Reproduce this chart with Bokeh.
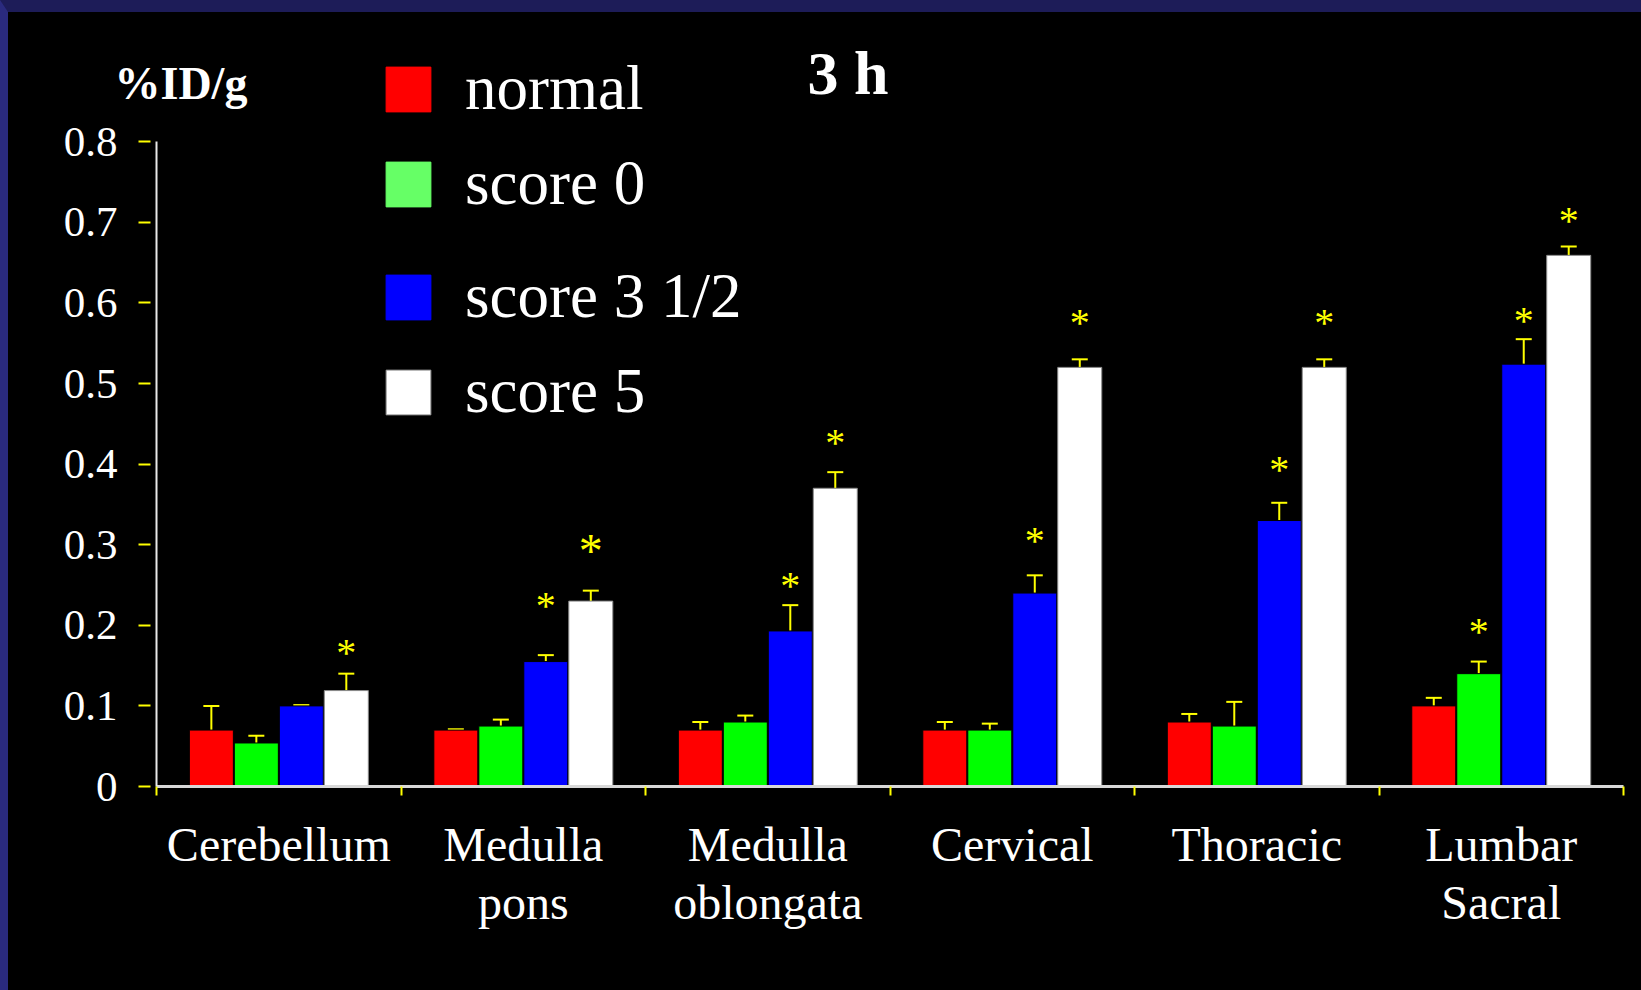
from bokeh.plotting import figure
from bokeh.models import (ColumnDataSource, FixedTicker, Whisker, TeeHead, Legend,
                          LegendItem, Label, Range1d)
from bokeh.transform import dodge
from bokeh.core.properties import value
from bokeh.embed import file_html
from bokeh.resources import INLINE

# ---------------- data ----------------
categories = ["Cerebellum", "Medulla\npons", "Medulla\noblongata",
              "Cervical", "Thoracic", "Lumbar\nSacral"]
series = ["normal", "score 0", "score 3 1/2", "score 5"]

normal      = [0.070, 0.070, 0.070, 0.070, 0.080, 0.100]
normal_err  = [0.100, 0.071, 0.080, 0.080, 0.090, 0.110]
score0      = [0.054, 0.075, 0.080, 0.070, 0.075, 0.140]
score0_err  = [0.063, 0.083, 0.088, 0.078, 0.105, 0.155]
score35     = [0.100, 0.155, 0.193, 0.240, 0.330, 0.524]
score35_err = [0.101, 0.163, 0.225, 0.262, 0.352, 0.555]
score5      = [0.119, 0.230, 0.370, 0.520, 0.520, 0.659]
score5_err  = [0.140, 0.243, 0.390, 0.530, 0.530, 0.670]

# significance asterisks: category index, series, height of the asterisk
star_cat    = [0, 1, 1, 2, 2, 3, 3, 4, 4, 5, 5, 5]
star_series = ["score 5", "score 3 1/2", "score 5", "score 3 1/2", "score 5",
               "score 3 1/2", "score 5", "score 3 1/2", "score 5",
               "score 0", "score 3 1/2", "score 5"]
star_y      = [0.170, 0.228, 0.2965, 0.253, 0.430, 0.309, 0.579, 0.397, 0.579,
               0.196, 0.582, 0.706]
star_big    = [False, False, True, False, False, False, False, False, False,
               False, False, False]

y_ticks = [0.0, 0.1, 0.2, 0.3, 0.4, 0.5, 0.6, 0.7, 0.8]
y_tick_labels = ["0", "0.1", "0.2", "0.3", "0.4", "0.5", "0.6", "0.7", "0.8"]

# ---------------- styles ----------------
FONT = "Liberation Serif"
YEL = "#FFFF00"
bar_colors = {"normal": "#FF0000", "score 0": "#00FF00",
              "score 3 1/2": "#0000FF", "score 5": "#FFFFFF"}
legend_colors = {"normal": "#FF0000", "score 0": "#66FF66",
                 "score 3 1/2": "#0000FF", "score 5": "#FFFFFF"}
outline = {"normal": "#000000", "score 0": "#000000",
           "score 3 1/2": "#000000", "score 5": "#8a8a8a"}
offsets = {"normal": -0.276, "score 0": -0.092, "score 3 1/2": 0.092, "score 5": 0.276}
BAR_W = 0.18

# layout: the frame covers the whole figure; both axes are pinned at 0 inside it
W, H = 1632, 976
PX_PER_Y = 806.0
PX_PER_X = 244.33
LEFT_PAD = 148      # pixels left of x = 0
BOTTOM_PAD = 202    # pixels below y = 0
RIGHT_PAD = 17
p = figure(width=W, height=H, output_backend="svg", toolbar_location=None,
           x_range=Range1d(-LEFT_PAD / PX_PER_X, 6 + RIGHT_PAD / PX_PER_X),
           y_range=Range1d(-BOTTOM_PAD / PX_PER_Y, (H - BOTTOM_PAD) / PX_PER_Y),
           min_border_left=0, min_border_right=0,
           min_border_top=0, min_border_bottom=0)
p.background_fill_color = "black"
p.border_fill_color = "black"
p.outline_line_color = None
p.xgrid.visible = False
p.ygrid.visible = False

cx = [i + 0.5 for i in range(len(categories))]
vals = {"normal": (normal, normal_err), "score 0": (score0, score0_err),
        "score 3 1/2": (score35, score35_err), "score 5": (score5, score5_err)}

for s in series:
    v, e = vals[s]
    src = ColumnDataSource(dict(x=cx, top=v, err=e))
    p.vbar(x=dodge("x", offsets[s]), top="top", width=BAR_W, source=src,
           fill_color=bar_colors[s], line_color=outline[s], line_width=1)
    w = Whisker(source=src, base=dodge("x", offsets[s]), lower="top", upper="err",
                dimension="height", line_color=YEL, line_width=2,
                upper_head=TeeHead(size=16, line_color=YEL, line_width=2),
                lower_head=None)
    p.add_layout(w)

# asterisks
sx = [star_cat[i] + 0.5 + offsets[star_series[i]] for i in range(len(star_y))]
ssize = ["48px" if b else "40px" for b in star_big]
ssrc = ColumnDataSource(dict(x=sx, y=star_y, t=["*"] * len(star_y), fs=ssize))
p.text(x="x", y="y", text="t", source=ssrc, text_color=YEL, text_font=value(FONT),
       text_font_size="fs", text_align="center", text_baseline="middle", y_offset=3)

# legend: zero-size proxy renderers carrying the legend colours
proxy = {}
for s in series:
    psrc = ColumnDataSource(dict(x=cx[:1], top=[0.0]))
    proxy[s] = p.vbar(x="x", top="top", width=0, source=psrc,
                      fill_color=legend_colors[s], line_width=1,
                      line_color=outline[s] if s == "score 5" else legend_colors[s])

leg_style = dict(glyph_width=56, glyph_height=56, label_text_font_size="63px",
                 label_text_font=FONT, label_text_color="white", label_standoff=29,
                 spacing=22, padding=0, margin=0,
                 background_fill_alpha=0, border_line_alpha=0)
leg_a = Legend(items=[LegendItem(label=s, renderers=[proxy[s]]) for s in series[:2]],
               location=(372, 768), **leg_style)
leg_b = Legend(items=[LegendItem(label=s, renderers=[proxy[s]]) for s in series[2:]],
               location=(372, 560), **leg_style)
p.add_layout(leg_a, "center")
p.add_layout(leg_b, "center")

# axes
xa = p.xaxis[0]
xa.fixed_location = 0
xa.bounds = (0, 6)
xa.ticker = FixedTicker(ticks=cx, minor_ticks=[0, 1, 2, 3, 4, 5, 6])
xa.major_label_overrides = {c: lab for c, lab in zip(cx, categories)}
xa.major_tick_line_color = None
xa.major_tick_out = 9
xa.major_tick_in = 0
xa.minor_tick_out = 9
xa.minor_tick_in = 0
xa.minor_tick_line_color = YEL
xa.minor_tick_line_width = 2
xa.axis_line_color = "#d8d8d8"
xa.axis_line_width = 3
xa.major_label_text_font = FONT
xa.major_label_text_font_size = "48px"
xa.major_label_text_line_height = 1.11
xa.major_label_text_color = "white"
xa.major_label_standoff = 22

ya = p.yaxis[0]
ya.fixed_location = 0
ya.bounds = (y_ticks[0], y_ticks[-1])
ya.ticker = FixedTicker(ticks=y_ticks, minor_ticks=[])
ya.major_label_overrides = {t: lab for t, lab in zip(y_ticks, y_tick_labels)}
ya.major_tick_line_color = YEL
ya.major_tick_line_width = 2
ya.major_tick_out = 18
ya.major_tick_in = -6
ya.minor_tick_line_color = None
ya.axis_line_color = "#e8e8e8"
ya.axis_line_width = 2
ya.major_label_text_font = FONT
ya.major_label_text_font_size = "43px"
ya.major_label_text_color = "white"
ya.major_label_standoff = 21

# texts (screen units, relative to the plot frame)
p.add_layout(Label(x=106, y=905, x_units="screen", y_units="screen", text="%ID/g",
                   text_font=FONT, text_font_size="46px", text_font_style="bold",
                   text_color="white", text_baseline="alphabetic"))
p.add_layout(Label(x=799, y=916, x_units="screen", y_units="screen", text="3 h",
                   text_font=FONT, text_font_size="62px", text_font_style="bold",
                   text_color="white", text_baseline="alphabetic"))

html = file_html(p, INLINE, title="3 h")
style = ("<style>html,body{margin:0;padding:0;background:#000;}"
         "body{border-top:12px solid #1d1c58;border-left:8px solid #2a2a7e;}</style>")
html = html.replace("</head>", style + "</head>", 1)
open("out.html", "w").write(html)
